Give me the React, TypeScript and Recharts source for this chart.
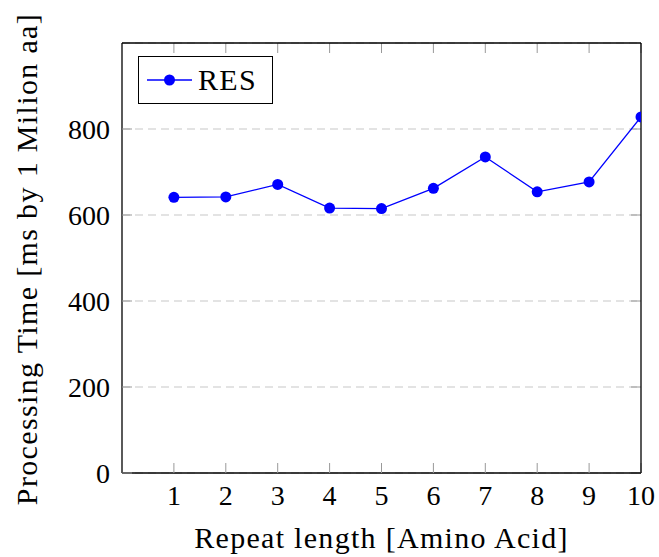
import React from 'react';
import { LineChart, Line, XAxis, YAxis, CartesianGrid, Legend, ReferenceLine } from 'recharts';

const repeatLengths = [1, 2, 3, 4, 5, 6, 7, 8, 9, 10];
const processingTimes = [641, 642, 671, 616, 615, 662, 735, 654, 677, 828];
const xTicks = [1, 2, 3, 4, 5, 6, 7, 8, 9, 10];
const yTicks = [0, 200, 400, 600, 800];
const xDomain = [0, 10];
const yDomain = [0, 1000];
const seriesName = 'RES';
const xTitle = 'Repeat length [Amino Acid]';
const yTitle = 'Processing Time [ms by 1 Milion aa]';

const data = repeatLengths.map((x, i) => ({ x, time: processingTimes[i] }));

const FONT = "'Liberation Serif', 'Times New Roman', serif";
const BLUE = '#0000ff';
const TICK_GRAY = '#999999';
const CHART_W = 659;
const CHART_H = 557;
const MARGIN = { top: 43, right: 18, bottom: 0, left: 0 };
const Y_AXIS_W = 122;
const X_AXIS_H = 84;
const PLOT_W = CHART_W - MARGIN.left - MARGIN.right - Y_AXIS_W;
const PLOT_H = CHART_H - MARGIN.top - MARGIN.bottom - X_AXIS_H;
const TICK_LEN = 10;
const tickLenX = (TICK_LEN * (xDomain[1] - xDomain[0])) / PLOT_W;
const tickLenY = (TICK_LEN * (yDomain[1] - yDomain[0])) / PLOT_H;

const renderLegend = (props: any) => {
  const item = props.payload && props.payload[0];
  const label = item ? item.value : seriesName;
  return (
    <div
      style={{
        boxSizing: 'border-box',
        width: 135,
        height: 48,
        border: '1.3px solid #000',
        background: '#fff',
        position: 'relative',
        fontFamily: FONT,
      }}
    >
      <svg width={60} height={46} style={{ position: 'absolute', left: 0, top: 0 }}>
        <line x1={8} y1={23} x2={53} y2={23} stroke={BLUE} strokeWidth={1.3} />
        <circle cx={30.5} cy={23} r={5.5} fill={BLUE} />
      </svg>
      <span
        style={{
          position: 'absolute',
          left: 59,
          top: 5,
          fontSize: 30,
          lineHeight: '36px',
          letterSpacing: '1.3px',
          color: '#000',
          fontFamily: FONT,
        }}
      >
        {label}
      </span>
    </div>
  );
};

const renderYTitle = (props: any) => {
  const vb = props.viewBox || { x: 0, y: 43, width: 122, height: 430 };
  const cx = vb.x + 37;
  const cy = vb.y + vb.height / 2 + 1;
  return (
    <text
      x={cx}
      y={cy}
      textAnchor="middle"
      transform={`rotate(-90, ${cx}, ${cy})`}
      fontFamily={FONT}
      fontSize={30}
      fill="#000"
      style={{ letterSpacing: '1.35px', fontFamily: FONT }}
    >
      {yTitle}
    </text>
  );
};

export default function App() {
  return (
    <div style={{ position: 'absolute', left: 0, top: 0, background: '#fff', fontFamily: FONT }}>
      <LineChart width={CHART_W} height={CHART_H} data={data} margin={MARGIN} style={{ fontFamily: FONT }}>
        <CartesianGrid
          horizontal
          vertical={false}
          stroke="#c8c8c8"
          strokeDasharray="8 5"
          strokeWidth={1.2}
        />
        <XAxis
          dataKey="x"
          type="number"
          domain={xDomain}
          ticks={xTicks}
          allowDataOverflow
          height={X_AXIS_H}
          tickLine={{ stroke: TICK_GRAY, strokeWidth: 1 }}
          tickSize={-TICK_LEN}
          tickMargin={TICK_LEN + 12}
          axisLine={{ stroke: '#000', strokeWidth: 1.3 }}
          tick={{ fill: '#000', fontSize: 28, fontFamily: FONT }}
          label={{
            value: xTitle,
            position: 'insideBottom',
            offset: 8.7,
            fill: '#000',
            fontSize: 30,
            fontFamily: FONT,
            style: { letterSpacing: '1.3px', fontFamily: FONT },
          }}
        />
        <XAxis
          xAxisId="top"
          orientation="top"
          mirror
          type="number"
          domain={xDomain}
          ticks={xTicks}
          allowDataOverflow
          axisLine={{ stroke: '#000', strokeWidth: 1.3 }}
          tickLine={false}
          tick={false}
        />
        <YAxis
          type="number"
          domain={yDomain}
          ticks={yTicks}
          allowDataOverflow
          width={Y_AXIS_W}
          tickLine={{ stroke: TICK_GRAY, strokeWidth: 1 }}
          tickSize={-TICK_LEN}
          tickMargin={TICK_LEN + 12}
          axisLine={{ stroke: '#000', strokeWidth: 1.3 }}
          tick={{ fill: '#000', fontSize: 28, fontFamily: FONT }}
          label={{ content: renderYTitle }}
        />
        <YAxis
          yAxisId="rm"
          orientation="right"
          mirror
          type="number"
          domain={yDomain}
          ticks={yTicks}
          allowDataOverflow
          axisLine={{ stroke: '#000', strokeWidth: 1.3 }}
          tickLine={false}
          tick={false}
        />
        {xTicks.map((t) => (
          <ReferenceLine
            key={`tt${t}`}
            segment={[
              { x: t, y: yDomain[1] },
              { x: t, y: yDomain[1] - tickLenY },
            ]}
            stroke={TICK_GRAY}
            strokeWidth={1}
            ifOverflow="visible"
          />
        ))}
        {yTicks.map((t) => (
          <ReferenceLine
            key={`rt${t}`}
            segment={[
              { x: xDomain[1], y: t },
              { x: xDomain[1] - tickLenX, y: t },
            ]}
            stroke={TICK_GRAY}
            strokeWidth={1}
            ifOverflow="visible"
          />
        ))}
        <Legend
          layout="horizontal"
          verticalAlign="middle"
          align="center"
          content={renderLegend}
          wrapperStyle={{ position: 'absolute', left: 138, top: 56, width: 'auto', height: 'auto' }}
        />
        <Line
          type="linear"
          dataKey="time"
          name={seriesName}
          stroke={BLUE}
          strokeWidth={1.3}
          dot={{ r: 5.5, fill: BLUE, stroke: BLUE, strokeWidth: 0 }}
          activeDot={false}
          isAnimationActive={false}
        />
      </LineChart>
    </div>
  );
}
